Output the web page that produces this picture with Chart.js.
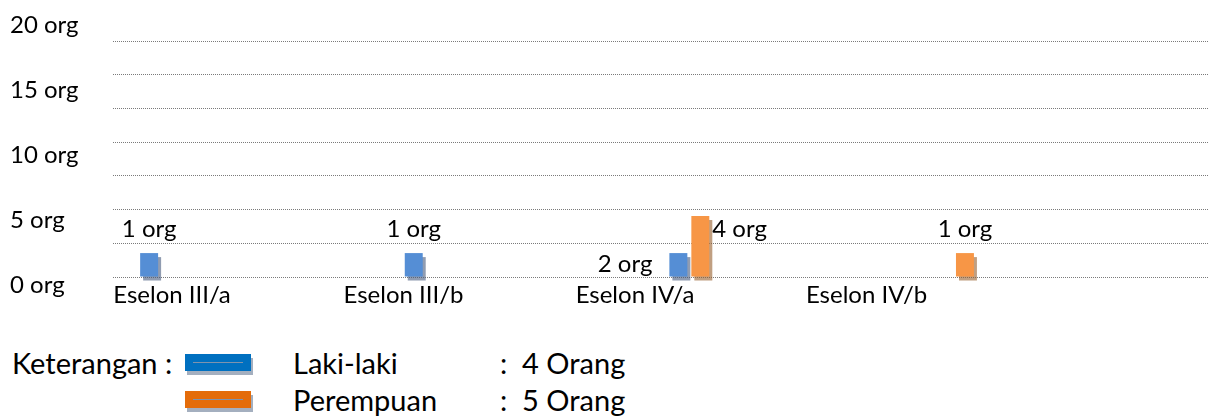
<!DOCTYPE html>
<html>
<head>
<meta charset="utf-8">
<script src="https://cdn.jsdelivr.net/npm/chart.js@4.4.1/dist/chart.umd.min.js"></script>
<style>
  html, body { margin: 0; padding: 0; background: #fff; }
  body { position: relative; width: 1208px; height: 417px; overflow: hidden; font-family: Lato, sans-serif; color: #000; }
  #chart-box { position: absolute; left: 0; top: 0; width: 1208px; height: 330px; }
  .txt { position: absolute; font-size: 29px; line-height: 29px; white-space: nowrap; }
  .swatch { position: absolute; left: 185px; width: 66px; height: 17px; box-shadow: 2px 4px 0 #a4afbf; }
  .swatch::after { content: ''; position: absolute; left: 8px; right: 8px; top: 8px; height: 1px; background: #7f93ad; }
</style>
</head>
<body>
<div id="chart-box"><canvas id="chart"></canvas></div>
<div id="legend"></div>
<script>
  // Data
  const categories = ['Eselon III/a', 'Eselon III/b', 'Eselon IV/a', 'Eselon IV/b'];
  const seriesNames = ['Laki-laki', 'Perempuan'];
  const lakiCounts = [1, 1, 2, null];
  const perempuanCounts = [null, null, 4, 1];
  // bar heights as drawn, in gridline steps
  const lakiHeights = [0.71, 0.71, 0.71, null];
  const perempuanHeights = [null, null, 1.81, 0.71];
  const yTickValues = [0, 5, 10, 15, 20];
  const unitShort = 'org';
  const unitLong = 'Orang';

  const barColors = ['#558ed5', '#f79646'];
  const shadowColors = ['rgba(70, 90, 125, 0.6)', 'rgba(150, 95, 45, 0.6)'];
  const legendColors = ['#0070c0', '#e46c0a'];
  const font = 'Lato';

  // Legend (Keterangan) below the chart
  const legend = document.getElementById('legend');
  const totals = [lakiCounts, perempuanCounts].map(arr => arr.reduce((a, v) => a + (v || 0), 0));
  let html = '<div class="txt" style="left:12px; top:348px">Keterangan :</div>';
  seriesNames.forEach((name, i) => {
    const top = 348 + i * 37;
    html += `<div class="swatch" style="top:${354 + i * 37}px; background:${legendColors[i]}"></div>`;
    html += `<div class="txt" style="left:293px; top:${top}px">${name}</div>`;
    html += `<div class="txt" style="left:500px; top:${top}px">:&nbsp; ${totals[i]} ${unitLong}</div>`;
  });
  legend.innerHTML = html;

  const barShadow = {
    id: 'barShadow',
    beforeDatasetDraw(chart, args) {
      const ctx = chart.ctx;
      ctx.save();
      ctx.shadowColor = shadowColors[args.index];
      ctx.shadowOffsetX = 3;
      ctx.shadowOffsetY = 4;
      ctx.shadowBlur = 0;
    },
    afterDatasetDraw(chart) {
      chart.ctx.restore();
    }
  };

  const countLabels = {
    id: 'countLabels',
    afterDatasetsDraw(chart) {
      const ctx = chart.ctx;
      ctx.save();
      ctx.font = `24px ${font}`;
      ctx.fillStyle = '#000';
      ctx.textBaseline = 'middle';
      chart.data.datasets.forEach((ds, di) => {
        chart.getDatasetMeta(di).data.forEach((bar, i) => {
          const count = ds.counts[i];
          if (count == null) return;
          const anchor = ds.labelAnchor[i];
          let x = bar.x;
          let y = bar.y - 24;
          ctx.textAlign = 'center';
          if (anchor === 'left') {
            x = bar.x - bar.width / 2 - 17;
            y = bar.y + 11;
            ctx.textAlign = 'right';
          } else if (anchor === 'right') {
            x = bar.x + bar.width / 2 + 3;
            y = bar.y + 13;
            ctx.textAlign = 'left';
          }
          ctx.fillText(`${count} ${unitShort}`, x, y);
        });
      });
      ctx.restore();
    }
  };

  const indexTicks = scale => { scale.ticks = categories.map((c, i) => ({ value: i })); };

  new Chart(document.getElementById('chart'), {
    type: 'bar',
    data: {
      datasets: [
        {
          label: seriesNames[0],
          data: lakiHeights.map((v, i) => ({ x: i, y: v })),
          backgroundColor: barColors[0],
          counts: lakiCounts,
          labelAnchor: ['top', 'top', 'left', null],
          xAxisID: 'x',
          yAxisID: 'y'
        },
        {
          label: seriesNames[1],
          data: perempuanHeights.map((v, i) => ({ x: i, y: v })),
          backgroundColor: barColors[1],
          counts: perempuanCounts,
          labelAnchor: [null, null, 'right', 'top'],
          xAxisID: 'x',
          yAxisID: 'y'
        }
      ]
    },
    options: {
      responsive: true,
      maintainAspectRatio: false,
      animation: false,
      layout: { autoPadding: false, padding: { left: 10, right: 0, top: 25, bottom: 5 } },
      plugins: { legend: { display: false }, tooltip: { enabled: false } },
      datasets: { bar: { categoryPercentage: 0.166, barPercentage: 0.818 } },
      scales: {
        x: {
          type: 'linear',
          display: false,
          offset: false,
          grid: { offset: false },
          min: -0.178,
          max: 3.96,
          afterBuildTicks: indexTicks
        },
        xLabels: {
          type: 'linear',
          position: 'bottom',
          offset: false,
          min: -0.255,
          max: 4.475,
          afterBuildTicks: indexTicks,
          grid: { display: false, drawTicks: false, offset: false },
          border: { display: false },
          ticks: {
            autoSkip: false,
            maxRotation: 0,
            padding: -2,
            color: '#000',
            font: { family: font, size: 24, lineHeight: 1 },
            callback: v => categories[v]
          },
          afterFit: s => { s.height = 40; }
        },
        y: {
          type: 'linear',
          position: 'left',
          min: -0.237,
          max: 7.478,
          ticks: { display: false, stepSize: 1, includeBounds: false },
          afterBuildTicks: s => { s.ticks = s.ticks.filter(t => Number.isInteger(t.value) && t.value >= 0); },
          grid: { color: '#7a7a7a', lineWidth: 1, drawTicks: false },
          border: { display: false, dash: [1, 1] },
          afterFit: s => { s.width = 0; }
        },
        yLabels: {
          type: 'linear',
          position: 'left',
          weight: 1,
          min: 0,
          max: 20,
          afterBuildTicks: s => { s.ticks = yTickValues.map(v => ({ value: v })); },
          grid: { display: false, drawTicks: false },
          border: { display: false },
          ticks: {
            crossAlign: 'far',
            color: '#000',
            font: { family: font, size: 24 },
            callback: v => `${v} ${unitShort}`
          },
          afterFit: s => { s.width = 103; }
        }
      }
    },
    plugins: [barShadow, countLabels]
  });
</script>
</body>
</html>
